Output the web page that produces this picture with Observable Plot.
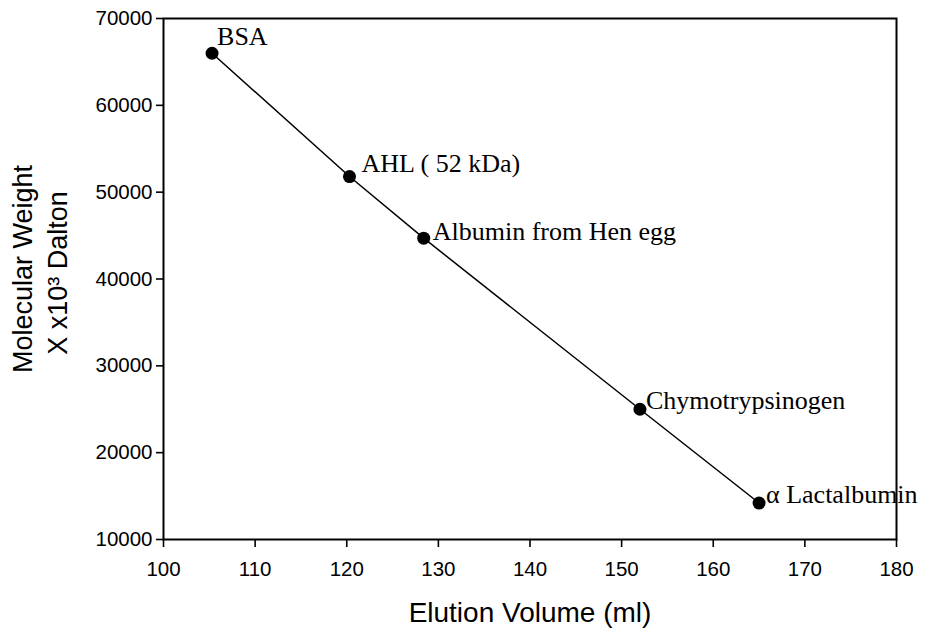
<!DOCTYPE html>
<html>
<head>
<meta charset="utf-8">
<script src="https://cdn.jsdelivr.net/npm/d3@7"></script>
<script src="https://cdn.jsdelivr.net/npm/@observablehq/plot@0.6"></script>
<style>
  html, body { margin: 0; padding: 0; background: #fff; }
  #chart svg { display: block; }
</style>
</head>
<body>
<div id="chart"></div>
<script>
// Data
const proteins = ["BSA", "AHL ( 52 kDa)", "Albumin from Hen egg", "Chymotrypsinogen", "\u03B1 Lactalbumin"];
const elutionVolume = [105.3, 120.3, 128.4, 152.0, 165.0];
const molecularWeight = [66000, 51800, 44700, 25000, 14200];
const xTicks = [100, 110, 120, 130, 140, 150, 160, 170, 180];
const yTicks = [10000, 20000, 30000, 40000, 50000, 60000, 70000];

const data = proteins.map((name, i) => ({ name, x: elutionVolume[i], y: molecularWeight[i] }));

// label placement offsets (style, not data)
const labelOffsets = {
  "BSA": [5, -17],
  "AHL ( 52 kDa)": [12, -13],
  "Albumin from Hen egg": [9, -7],
  "Chymotrypsinogen": [6, -9],
  "\u03B1 Lactalbumin": [7, -8]
};

const sans = "'Liberation Sans', Arial, Helvetica, sans-serif";
const serif = "'Liberation Serif', 'Times New Roman', Times, serif";

const labelMarks = data.map(d => Plot.text([d], {
  x: "x", y: "y", text: "name",
  dx: labelOffsets[d.name][0], dy: labelOffsets[d.name][1],
  textAnchor: "start", fontFamily: serif, fontSize: 26, fill: "black"
}));

const chart = Plot.plot({
  width: 928,
  height: 633,
  marginLeft: 163,
  marginRight: 32,
  marginTop: 18,
  marginBottom: 94,
  style: { fontFamily: sans, fontSize: "20px", color: "black", background: "white", overflow: "visible" },
  x: { domain: [100, 180], ticks: xTicks, tickFormat: d => String(d), label: null },
  y: { domain: [10000, 70000], ticks: yTicks, tickFormat: d => String(d), label: null },
  marks: [
    Plot.frame({ stroke: "black", strokeWidth: 2 }),
    Plot.axisX({ ticks: xTicks, tickSize: 8, tickPadding: 14, tickFormat: d => String(d), label: null, fontSize: 20.5, strokeWidth: 1.6 }),
    Plot.axisY({ ticks: yTicks, tickSize: 7, tickPadding: 4, tickFormat: d => String(d), label: null, fontSize: 20.5, strokeWidth: 1.6 }),
    Plot.line(data, { x: "x", y: "y", stroke: "black", strokeWidth: 1.5 }),
    Plot.dot(data, { x: "x", y: "y", r: 6.5, fill: "black", stroke: "none" }),
    ...labelMarks,
    Plot.text(["Elution Volume (ml)"], { frameAnchor: "bottom", lineAnchor: "middle", textAnchor: "middle", dy: 74, text: d => d, fontFamily: sans, fontSize: 28, fill: "black" }),
    Plot.text(["Molecular Weight"], { frameAnchor: "left", textAnchor: "middle", lineAnchor: "middle", dx: -140, dy: -10, rotate: -90, text: d => d, fontFamily: sans, fontSize: 27, fill: "black" }),
    Plot.text(["X x10\u00B3 Dalton"], { frameAnchor: "left", textAnchor: "middle", lineAnchor: "middle", dx: -105, dy: -6, rotate: -90, text: d => d, fontFamily: sans, fontSize: 27, fill: "black" })
  ]
});

document.getElementById("chart").appendChild(chart);
</script>
</body>
</html>
